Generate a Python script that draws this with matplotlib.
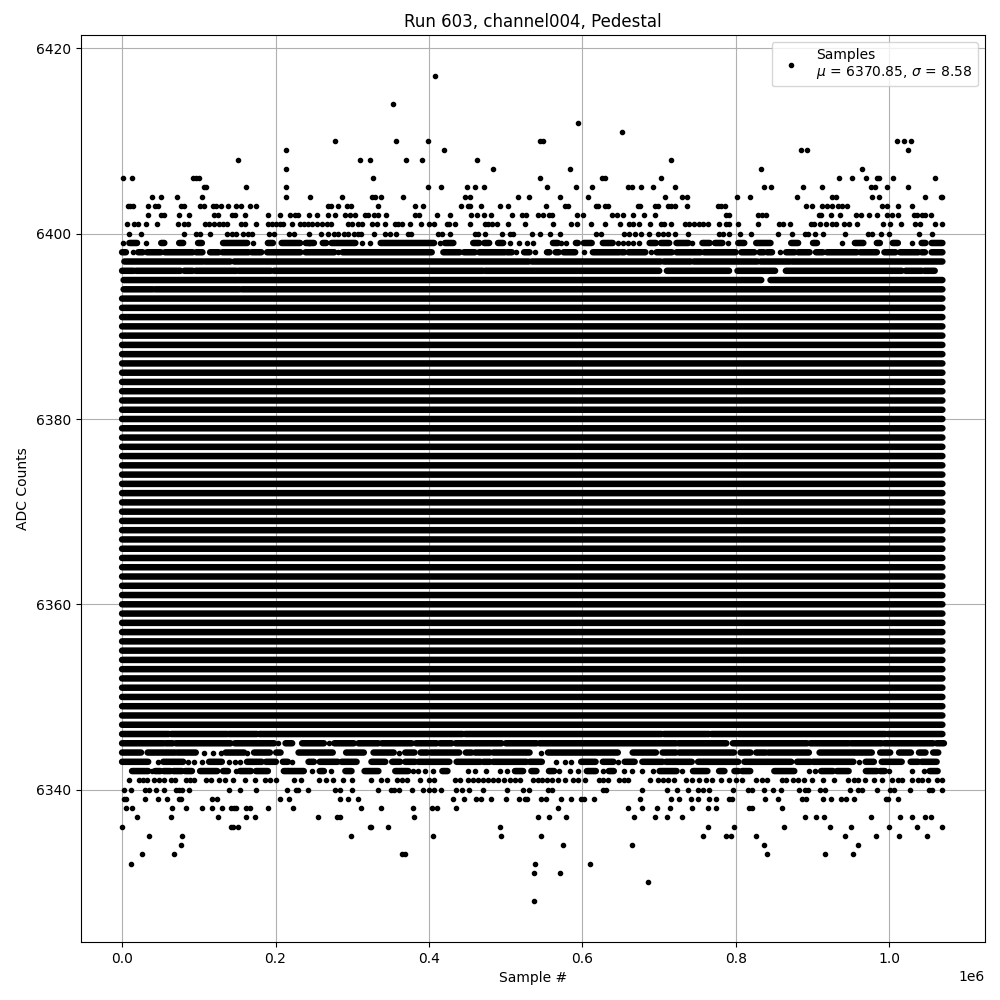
import matplotlib
matplotlib.use('Agg')
import matplotlib.pyplot as plt

# sample positions are in thousands of samples, read level by level off the plot
isolated_levels = [6417, 6414, 6412, 6411, 6410, 6409, 6408, 6407, 6406, 6405, 6404, 6403, 6402, 6401,
                   6400, 6399, 6398, 6345, 6344, 6343, 6342, 6341, 6340, 6339, 6338, 6337, 6336, 6335,
                   6334, 6333, 6332, 6331, 6330, 6328]
isolated_samples = [
	[408.3],
	[352.4],
	[594],
	[651],
	[278, 357.5, 399, 544.6, 548.5, 1009.5, 1018.6, 1027.7],
	[213.4, 420, 885, 892.6, 1023.8],
	[151, 309.5, 322.5, 370.6, 391.4, 462.8, 715],
	[213.4, 483.6, 583.6, 833, 964],
	[1.7, 13.4, 92, 96, 100, 326.4, 544.6, 626, 629, 701.8, 934.2, 951, 969.3, 983.6, 986, 1004.3, 1059],
	[107, 110, 161.5, 213.4, 399, 416, 449.8, 460, 472, 553.7, 591.4, 612, 659, 664, 675.8, 691.4, 721,
	 836.8, 846, 887.5, 912, 976, 981, 996.6, 1023.8],
	[39.4, 51, 71.8, 104.3, 213.4, 244.6, 286, 326, 329, 338, 366.7, 447, 453.7, 516, 530.4, 570.6, 607,
	 707, 730.3, 736.8, 801.7, 818.6, 879.7, 925, 930, 977, 986, 1046, 1066.7, 1069],
	[7.3, 10.8, 13.8, 34, 43.3, 47.2, 77, 80.5, 101.7, 107.3, 118, 123, 128.6, 138, 148.5, 155, 166.7,
	 174.4, 268, 272, 282, 292.6, 298, 333, 382, 392.7, 442, 451, 453.7, 468, 492.7, 503, 552.4, 577, 581,
	 617.4, 620, 629, 633, 672, 674.5, 694, 699, 711, 714.8, 721, 736.8, 777, 781, 786, 891, 899, 912,
	 918.6, 925, 933, 938, 944.6, 990, 996.6, 1011, 1029],
	[34, 51, 55, 74.4, 87.4, 120, 125, 143, 147, 160, 190, 205.6, 218.6, 225, 229, 243, 253.7, 268, 277,
	 291, 296.5, 304, 316, 321, 328, 334, 343.3, 382, 387.5, 411, 427.7, 455, 462, 472, 481, 508, 521,
	 526.5, 542, 548.5, 556.3, 560, 592.7, 600.5, 638, 644.6, 652.4, 665.4, 679.7, 694, 787.5, 791.4,
	 829, 834, 839.4, 908, 911, 923.8, 935.5, 956.3, 962.8, 973, 983.6, 996.6, 1003, 1011, 1031.6,
	 1035.5, 1043, 1047, 1053.7],
	[6.9, 16, 20.8, 31.6, 45.9, 73, 81, 86, 108, 113, 120, 126.4, 131.6, 136.8, 155, 160, 174.4, 190,
	 195, 200, 205.6, 209.5, 221, 231.6, 236.8, 242, 247, 253.7, 260, 266.6, 272, 294, 300, 307, 312,
	 326, 331.6, 342, 355.5, 360, 365.4, 375.8, 390, 400.5, 407, 424, 426.5, 434, 453.7, 473, 477, 482.3,
	 488.8, 503, 525, 561.5, 585, 592.7, 610.8, 629, 648.5, 660.2, 665.4, 673.2, 687.5, 701.8, 705.7,
	 715, 733, 739, 745.5, 752.4, 757.6, 764, 778.4, 787.5, 791.4, 803, 829, 856.3, 861.5, 870.6, 898,
	 901.7, 909.5, 917.3, 925, 930, 940.7, 947, 957.6, 991.4, 1000.4, 1014.7, 1033, 1039.4, 1060, 1069],
	[9.5, 25, 81, 96.5, 101.7, 114.7, 136.8, 143, 148.5, 157.6, 164, 169, 191, 198, 217, 224, 243, 259,
	 268, 276, 282, 289, 295, 302, 307, 311, 328, 343, 349.4, 357, 373.2, 377, 412, 417.4, 427.7, 460.2,
	 464, 473, 495, 505.7, 509.6, 534.3, 544.6, 557.6, 570.6, 617.4, 623.9, 653.7, 660.2, 668, 675.8,
	 686.2, 699, 704.4, 711, 721.2, 738, 778.4, 783.6, 791.4, 805.6, 820, 855, 873, 890, 894, 903, 913.4,
	 942, 972, 977, 988.8, 999, 1038, 1056],
	[1.7, 31.6, 170.5, 243, 312, 322.5, 414.8, 505.7, 517.4, 527.8, 535.6, 572, 578.4, 646, 652.4, 659,
	 665.4, 673.2, 743.3, 790, 938, 1029],
	[14.7, 282, 513.5, 538, 601.8, 688.8, 857.6],
	[203.5, 269],
	[106.5, 118, 128.6, 162.8, 361, 546],
	[47, 86, 94, 103.5, 139.4, 147, 153.7, 221, 565, 577, 585, 646, 960.6],
	[38.5, 148.5, 247, 272, 379, 386, 395, 405.7, 451, 460, 474, 493, 502, 569, 583.6, 594, 626.5, 653.7,
	 664, 677, 691.4, 730.3, 895, 903, 999, 1030, 1044.6],
	[9.5, 22.5, 27.7, 33, 42, 48.5, 55, 64, 69, 83.5, 88.7, 94, 109.5, 116, 126.4, 134, 144, 160, 173, 186,
	 192.6, 200, 223.8, 233, 256, 265.3, 274.4, 287.4, 299, 325, 336.8, 345, 358, 364.5, 371, 388, 400.4,
	 407, 434, 440.3, 450.3, 457.6, 464, 470.6, 477, 483.6, 490, 498, 505.7, 512, 518.7, 535.6, 542,
	 547.2, 553.7, 560, 568, 577, 587.5, 594, 603, 621.3, 626.5, 633, 647, 653.7, 659, 687.5, 697.9,
	 704.4, 712, 719.5, 734.6, 743.3, 752, 760.6, 769, 780, 791, 799.6, 807.4, 826.4, 834, 840.7, 860,
	 865.4, 874.5, 881, 888.8, 899, 913.4, 927.7, 946, 953.7, 959, 968, 979.7, 990, 1004, 1011, 1017,
	 1030, 1037, 1043, 1050, 1061.5, 1069],
	[2, 12, 30.3, 35.5, 44.6, 55, 70.5, 74.4, 78.3, 87.4, 139.4, 153.7, 174.4, 214.7, 226.4, 229, 242, 278,
	 283.5, 299, 333, 350, 355, 361.5, 378.4, 392.7, 400.5, 407, 416, 435.5, 443.3, 452.4, 470.6, 501.8,
	 522.6, 530.4, 555, 560, 626.5, 631, 678, 710.4, 722.6, 738, 751, 757.6, 765.4, 796.6, 816, 821, 837,
	 848.5, 859, 882, 890, 894, 909.5, 916, 948.5, 959, 964, 983.6, 1000.4, 1005.6, 1026.4, 1051, 1055,
	 1069],
	[3, 4.7, 29.8, 46.7, 58.9, 74.4, 77, 117, 123.4, 205.6, 217.3, 283.5, 294, 307, 431.7, 446, 461.5, 468,
	 481, 500.5, 517.4, 525, 528, 546, 552.4, 572, 585, 598, 602, 615, 674.5, 714.8, 726.4, 742, 750,
	 765.4, 774.5, 791, 795, 837.7, 855, 886, 891, 913.4, 923.8, 937, 943.3, 953.7, 995, 998, 1011],
	[5.6, 13.4, 65.3, 83.5, 104.3, 117, 130, 142, 146, 149, 161.5, 166.7, 190, 222.5, 310.8, 336.8, 379.7,
	 404.4, 411, 435.5, 568, 659, 677, 696.6, 713.5, 743.3, 764, 774.5, 817, 821, 860],
	[20, 64, 125, 161.5, 173, 255, 280, 284, 381, 542, 556.3, 578.4, 666.7, 695, 709.6, 729.5, 890, 904.3,
	 914.7, 976, 1013.4, 1029, 1046, 1054],
	[0.4, 142, 144, 151, 322.5, 325, 347, 492.7, 763, 798, 863, 922.5, 950, 999, 1035.5, 1068],
	[35.5, 78.3, 298, 405.7, 494, 546, 757.6, 787.5, 794, 826.4, 942, 982, 1012, 1048.5],
	[77, 574.5, 664, 837, 959],
	[26.4, 68, 364.5, 369, 840.7, 916, 952.4],
	[12, 538, 609.6],
	[537, 570.6],
	[685],
	[537],
]

# levels that read as unbroken stretches of overlapping points: (first, last) sample
stretch_levels = [6399, 6398, 6397, 6396, 6395, 6394, 6346, 6345, 6344, 6343, 6342]
stretch_spans = [
	[(9.5, 19.5), (51, 55), (74.4, 79.6), (99, 104), (131.6, 163), (190, 196.5), (208, 232), (239.4, 250),
	 (261.5, 266), (273, 304), (337, 406.5), (420.8, 431.7), (457.6, 465.4), (472, 478.4), (490, 496.6),
	 (561.5, 568), (591.4, 594), (601.8, 612), (626.5, 639.4), (687.5, 695.7), (702.2, 713), (722.5, 738),
	 (756.3, 765.8), (772.7, 782.3), (803, 810.8), (826.4, 845), (872, 881), (900.4, 905.6), (955, 966),
	 (983.6, 987.5), (1004.3, 1011), (1042, 1047), (1055, 1069)],
	[(0, 5), (21, 27), (32.5, 50.6), (55.8, 92), (96.5, 104.7), (114.7, 126), (130.7, 165), (169, 181.4),
	 (189, 232.5), (239, 276.6), (287.4, 403.5), (418.7, 440), (445.5, 459.8), (465.4, 498.8), (501.8, 508),
	 (523.9, 531), (553.7, 557), (565, 569), (575.4, 590.5), (613.5, 648), (651, 654.6), (660, 681.9),
	 (696.6, 716.5), (722.5, 754), (758.5, 799.6), (807, 824), (830.8, 836.4), (840.7, 847), (865.4, 876.6),
	 (881, 896), (904.3, 913.4), (918.6, 957.6), (962, 983.6), (993.5, 1008), (1013.9, 1037.7), (1042, 1046.3),
	 (1055, 1069)],
	[(3, 105), (108, 141), (146, 530), (534, 702), (706, 741), (745, 828), (832, 870), (873, 1069)],
	[(0, 15), (18, 76), (81, 92), (96, 149), (152, 194), (198, 470), (473, 700), (710, 791), (802, 851),
	 (865, 1016), (1021, 1042), (1045.5, 1059)],
	[(2, 833), (845, 1069)],
	[(2, 40), (43, 153), (156, 1069)],
	[(0, 61), (64, 137), (139, 176), (179, 444), (447, 703), (706, 765), (768, 800), (803, 995), (998, 1069)],
	[(0, 54), (57, 66), (70, 141.5), (147, 198), (213, 221.6), (234.6, 263), (276.6, 302), (308, 334),
	 (338.5, 377.5), (383, 410), (414.3, 429.5), (434.7, 494.4), (500, 540), (544, 721.7), (725, 787.5),
	 (796, 892.7), (897, 947), (950, 990), (993.5, 1057), (1061.5, 1071)],
	[(0, 24.7), (33.3, 69), (72, 96), (135, 159), (172, 192.6), (200.8, 206.5), (230, 274.5), (292, 315),
	 (327.7, 354), (369, 381), (389, 398), (402.2, 439.4), (448, 455.5), (460, 479.3), (483.6, 506),
	 (508.7, 531), (555, 646), (665.4, 695.7), (704.4, 721.7), (726, 797.4), (806, 819), (826.4, 838.5),
	 (842, 895), (909, 977), (988, 1001), (1012.6, 1028), (1038.5, 1047), (1057, 1063.6)],
	[(0, 34), (53.7, 79.6), (113.4, 130), (162.8, 182), (187.4, 200.4), (209.5, 216), (243, 250), (257.6, 281),
	 (286, 305.6), (325, 343), (352, 362.4), (369, 382), (386.2, 426.5), (436, 467), (470.6, 479.3),
	 (483.6, 527), (531, 547), (598.3, 617), (626.5, 640.3), (655, 668), (678, 704.4), (708.7, 742.4),
	 (750.7, 803), (811, 872), (879.7, 897), (900.4, 953), (969, 979.7), (990, 1016), (1027.7, 1037.7),
	 (1042, 1061.5)],
	[(13, 34), (43, 50), (54, 63), (66.6, 78), (82, 91), (101.7, 124), (131.6, 138), (153.7, 168), (174.4, 190),
	 (210.8, 236.8), (257.6, 263), (291, 299), (316, 334), (356, 373), (417.4, 424), (512, 522.6), (533.4, 540),
	 (556.3, 563), (605.7, 617.4), (634.3, 640.8), (700.5, 722.6), (744, 762.8), (778, 785), (798, 803),
	 (808, 818.6), (850, 876), (911, 926.4), (931.6, 946.8), (969.3, 983.6), (988, 994), (1052.4, 1062.8)],
]

# the middle of the distribution has a point at nearly every sample
solid_levels = list(range(6347, 6394))
solid_span = (0, 1069)

mu = 6370.85
sigma = 8.58

fig, ax = plt.subplots(figsize=(10, 10), dpi=100)

xs = []
ys = []
for level, samples in zip(isolated_levels, isolated_samples):
	xs += [s * 1000 for s in samples]
	ys += [level] * len(samples)
ax.plot(xs, ys, 'k.', label='Samples\n$\\mu$ = %.2f, $\\sigma$ = %.2f' % (mu, sigma))

for level, spans in zip(stretch_levels, stretch_spans):
	ax.hlines([level] * len(spans), [a * 1000 for a, b in spans], [b * 1000 for a, b in spans],
		colors='k', linewidth=4.7, capstyle='round', zorder=2, snap=False)
ax.hlines(solid_levels, solid_span[0] * 1000, solid_span[1] * 1000,
	colors='k', linewidth=4.7, capstyle='round', zorder=2, snap=False)

ax.set_title('Run 603, channel004, Pedestal')
ax.set_xlabel('Sample #')
ax.set_ylabel('ADC Counts')
ax.grid(True)
ax.legend(loc='upper right')
fig.subplots_adjust(left=0.081, right=0.985, top=0.965, bottom=0.058)
plt.savefig('out.png')
